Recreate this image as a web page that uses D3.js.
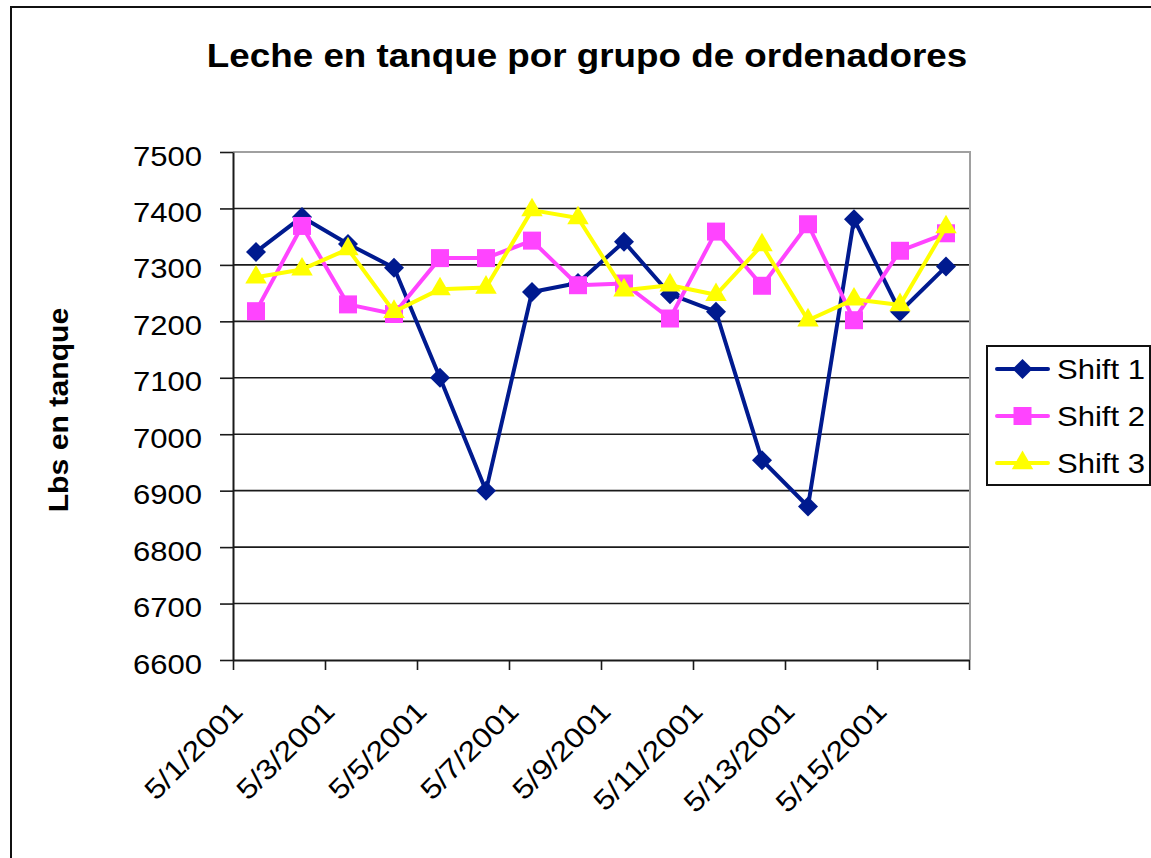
<!DOCTYPE html>
<meta charset="utf-8">
<script src="https://d3js.org/d3.v7.min.js"></script>
<style>
  body { margin: 0; background: #fff; }
  text { font-family: "Liberation Sans", Arial, sans-serif; fill: #000; }
</style>
<div id="chart"></div>
<script>

// data
var dates = ["5/1/2001", "5/2/2001", "5/3/2001", "5/4/2001", "5/5/2001", "5/6/2001",
             "5/7/2001", "5/8/2001", "5/9/2001", "5/10/2001", "5/11/2001", "5/12/2001",
             "5/13/2001", "5/14/2001", "5/15/2001", "5/16/2001"];
var shift1 = [7323, 7385, 7337, 7295, 7100, 6900, 7252, 7268, 7341, 7248, 7217, 6954, 6872, 7381, 7217, 7297];
var shift2 = [7218, 7369, 7230, 7213, 7312, 7312, 7343, 7264, 7267, 7205, 7359, 7263, 7372, 7202, 7325, 7356];
var shift3 = [7278, 7292, 7328, 7217, 7257, 7260, 7397, 7383, 7255, 7264, 7247, 7335, 7202, 7239, 7229, 7367];
var seriesNames = ["Shift 1", "Shift 2", "Shift 3"];
var yTicks = [6600, 6700, 6800, 6900, 7000, 7100, 7200, 7300, 7400, 7500];

var colors = { "Shift 1": "#001a8f", "Shift 2": "#ff44ff", "Shift 3": "#ffff00" };
var stretch = 1.15; // text in the picture is a bit wider than normal

var width = 1151, height = 858;
var plot = { left: 233, right: 969, top: 152, bottom: 660 };

var svg = d3.select("#chart").append("svg")
  .attr("width", width)
  .attr("height", height);

// outer chart border (runs off the right/bottom edge)
svg.append("rect")
  .attr("x", 11).attr("y", 7)
  .attr("width", 1200).attr("height", 900)
  .attr("fill", "#fff").attr("stroke", "#111").attr("stroke-width", 2);

var fmt = d3.timeFormat("%-m/%-d/%Y");
var days = dates.map(function(s) { return d3.timeParse("%m/%d/%Y")(s); });
var start = days[0], end = d3.timeDay.offset(days[days.length - 1], 1);

var x = d3.scaleTime().domain([start, end]).range([plot.left, plot.right]);
var y = d3.scaleLinear().domain([6600, 7500]).range([plot.bottom, plot.top]);

// gridlines
svg.append("g").selectAll("line")
  .data(yTicks.slice(1, -1))
  .enter().append("line")
  .attr("x1", plot.left).attr("x2", plot.right)
  .attr("y1", function(d) { return y(d); })
  .attr("y2", function(d) { return y(d); })
  .attr("stroke", "#1a1a1a").attr("stroke-width", 1.6);

// plot area border (top and right are grey)
svg.append("path")
  .attr("d", "M" + plot.left + "," + y(7500) + "H" + (plot.right + 1) + "V" + plot.bottom)
  .attr("fill", "none").attr("stroke", "#a0a0a0").attr("stroke-width", 2);

// y axis
var yAxis = svg.append("g")
  .attr("transform", "translate(" + plot.left + ",0)")
  .call(d3.axisLeft(y).tickValues(yTicks).tickSize(13).tickSizeOuter(0).tickFormat(d3.format("d")));
yAxis.select(".domain").attr("stroke", "#1a1a1a").attr("stroke-width", 2);
yAxis.selectAll(".tick line").attr("stroke", "#1a1a1a").attr("stroke-width", 1.6);
yAxis.selectAll(".tick text")
  .attr("x", 0).attr("dy", null)
  .attr("transform", "translate(-31,13) scale(" + stretch + ",1)")
  .attr("text-anchor", "end")
  .attr("font-size", 27)
  .attr("font-family", "Liberation Sans, Arial, sans-serif")
  .attr("fill", "#000");

// x axis: a tick every two days, labels rotated
var xTicks = d3.timeDay.every(2).range(start, d3.timeDay.offset(end, 1));
var xAxis = svg.append("g")
  .attr("transform", "translate(0," + plot.bottom + ")")
  .call(d3.axisBottom(x).tickValues(xTicks).tickSize(10).tickSizeOuter(0)
    .tickFormat(function(d) { return d < end ? fmt(d) : ""; }));
xAxis.select(".domain").attr("stroke", "#1a1a1a").attr("stroke-width", 2);
xAxis.selectAll(".tick line").attr("stroke", "#1a1a1a").attr("stroke-width", 1.6);
xAxis.selectAll(".tick text")
  .attr("x", 0).attr("y", 0).attr("dy", null)
  .attr("transform", "translate(11,53) rotate(-45) scale(" + stretch + ",1)")
  .attr("text-anchor", "end")
  .attr("font-size", 28)
  .attr("font-family", "Liberation Sans, Arial, sans-serif")
  .attr("fill", "#000");

// titles
svg.append("text")
  .attr("transform", "translate(587,67) scale(1.115,1)")
  .attr("text-anchor", "middle")
  .attr("font-size", 33).attr("font-weight", "bold")
  .text("Leche en tanque por grupo de ordenadores");

svg.append("text")
  .attr("transform", "translate(68,410) rotate(-90) scale(1.06,1)")
  .attr("text-anchor", "middle")
  .attr("font-size", 28.5).attr("font-weight", "bold")
  .text("Lbs en tanque");

// markers
var symbols = {
  "Shift 1": { type: d3.symbolSquare, size: 200, rotate: 45 },
  "Shift 2": { type: d3.symbolSquare, size: 324, rotate: 0 },
  "Shift 3": { type: d3.symbolTriangle, size: 200, rotate: 0 }
};

function mid(d) { return x(d3.timeHour.offset(d, 12)); }

var series = [
  { name: "Shift 1", values: shift1 },
  { name: "Shift 2", values: shift2 },
  { name: "Shift 3", values: shift3 }
];

var line = d3.line()
  .x(function(d, i) { return mid(days[i]); })
  .y(function(d) { return y(d); });

series.forEach(function(s) {
  var g = svg.append("g");
  g.append("path")
    .attr("d", line(s.values))
    .attr("fill", "none")
    .attr("stroke", colors[s.name])
    .attr("stroke-width", 4)
    .attr("stroke-linejoin", "round");
  var sym = symbols[s.name];
  g.selectAll("path.mark")
    .data(s.values)
    .enter().append("path")
    .attr("class", "mark")
    .attr("d", d3.symbol().type(sym.type).size(sym.size))
    .attr("transform", function(d, i) {
      return "translate(" + mid(days[i]) + "," + y(d) + ") rotate(" + sym.rotate + ")";
    })
    .attr("fill", colors[s.name]);
});

// legend
var legend = svg.append("g");
legend.append("rect")
  .attr("x", 987).attr("y", 346)
  .attr("width", 163).attr("height", 139)
  .attr("fill", "#fff").attr("stroke", "#111").attr("stroke-width", 2);

seriesNames.forEach(function(name, i) {
  var cy = 369 + i * 47;
  var sym = symbols[name];
  legend.append("line")
    .attr("x1", 997).attr("x2", 1048)
    .attr("y1", cy).attr("y2", cy)
    .attr("stroke", colors[name]).attr("stroke-width", 4)
    .attr("stroke-linecap", "round");
  legend.append("path")
    .attr("d", d3.symbol().type(sym.type).size(sym.size))
    .attr("transform", "translate(1022.5," + cy + ") rotate(" + sym.rotate + ")")
    .attr("fill", colors[name]);
  legend.append("text")
    .attr("transform", "translate(1057," + (cy + 10) + ") scale(" + stretch + ",1)")
    .attr("font-size", 27)
    .text(name);
});

</script>
